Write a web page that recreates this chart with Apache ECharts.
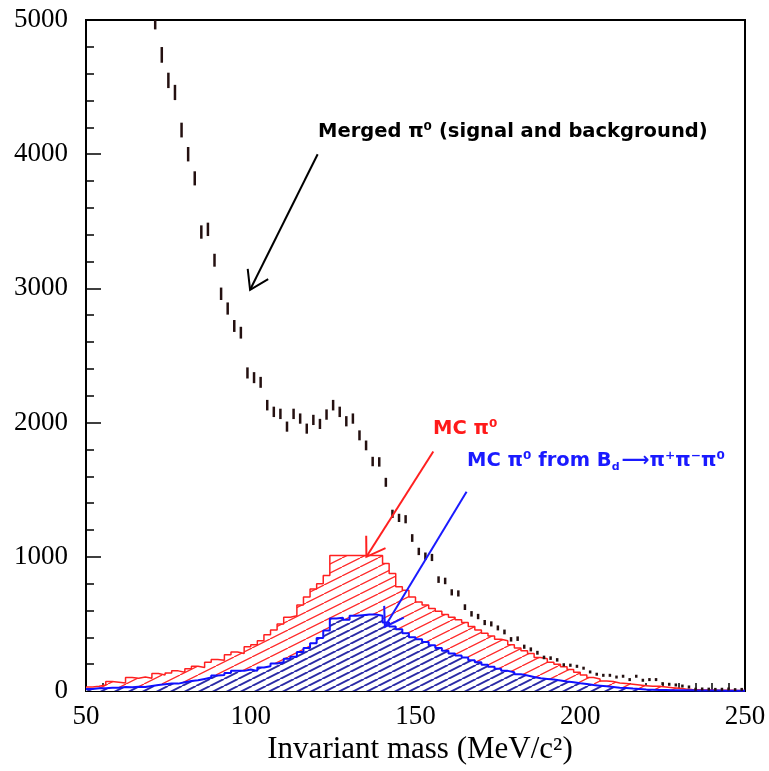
<!DOCTYPE html>
<html><head><meta charset="utf-8">
<script src="https://cdn.jsdelivr.net/npm/echarts/dist/echarts.min.js"></script>
<style>html,body{margin:0;padding:0;background:#fff}#c{width:769px;height:771px}</style>
</head><body><div id="c"></div>
<script>
// ---- data (2 MeV bins from 50 to 250 MeV/c^2) ----
const binStart = 50;
const binWidth = 2;
const xTickValues = [50, 100, 150, 200, 250];
const yTickValues = [0, 1000, 2000, 3000, 4000, 5000];

// Merged pi0 candidates (data, error bars)
const dataCounts = [
  6500, 6300, 6100, 5900, 5800, 5600, 5500, 5300, 5200, 5100,
  4990, 4740, 4550, 4460, 4180, 4000, 3820, 3420, 3440, 3210,
  2960, 2850, 2720, 2670, 2370, 2335, 2300, 2130, 2080, 2065,
  1970, 2065, 2030, 1955, 2020, 1990, 2060, 2130, 2080, 2010,
  2030, 1905, 1830, 1710, 1707, 1555, 1320, 1290, 1280, 1140,
  1040, 1005, 995, 830, 820, 735, 727, 625, 575, 555,
  510, 500, 470, 440, 385, 390, 330, 310, 285, 250,
  245, 232, 195, 192, 184, 170, 142, 125, 117, 117,
  104, 110, 85, 110, 80, 85, 85, 55, 50, 45,
  37, 30, 13, 15, 14, 12, 13, 15, 10, 12
];

// MC pi0 (red hatched)
const mcPi0 = [
  30, 35, 45, 70, 65, 60, 100, 95, 105, 95,
  130, 120, 135, 150, 140, 165, 185, 175, 215, 235,
  230, 270, 290, 280, 330, 345, 375, 420, 455, 500,
  550, 560, 640, 700, 760, 800, 860, 1010, 1010, 1010,
  1010, 1010, 1010, 1010, 1010, 950, 876, 776, 750, 700,
  664, 640, 615, 595, 570, 550, 530, 510, 480, 455,
  430, 410, 385, 375, 345, 320, 300, 280, 250, 240,
  215, 200, 180, 160, 140, 120, 100, 90, 75, 70,
  60, 55, 50, 45, 40, 35, 35, 30, 25, 20,
  15, 12, 10, 8, 8, 6, 5, 5, 4, 3
];

// MC pi0 from Bd -> pi+ pi- pi0 (blue hatched)
const mcPi0Bd = [
  15, 20, 20, 25, 25, 30, 28, 32, 30, 38,
  45, 50, 55, 55, 65, 75, 80, 90, 100, 115,
  120, 135, 150, 150, 160, 150, 175, 185, 205, 215,
  240, 255, 290, 320, 355, 395, 450, 540, 545, 530,
  560, 565, 570, 570, 560, 510, 480, 460, 430, 400,
  385, 365, 340, 320, 300, 280, 265, 250, 230, 215,
  195, 180, 165, 150, 140, 125, 115, 105, 95, 90,
  85, 78, 70, 65, 58, 52, 45, 40, 35, 30,
  25, 22, 18, 15, 12, 10, 8, 8, 6, 6,
  5, 5, 4, 4, 3, 3, 2, 2, 2, 2
];

// annotation arrows (data coordinates: from -> tip)
const arrowMerged = [[120.3, 4000], [99.8, 2990]];
const arrowMC = [[155.4, 1784], [135.1, 1000]];
const arrowBd = [[165.5, 1485], [140.7, 478]];

// ---- hatch patterns ----
function hatch(w, h, color, lw) {
  const c = document.createElement('canvas');
  c.width = w; c.height = h;
  const g = c.getContext('2d');
  g.fillStyle = '#fff'; g.fillRect(0, 0, w, h);
  g.strokeStyle = color; g.lineWidth = lw;
  g.beginPath();
  for (const o of [-w, 0, w]) { g.moveTo(o, h); g.lineTo(o + w, 0); }
  g.stroke();
  return c;
}
const redPat = hatch(18, 9, '#ff2a2a', 1.3);
const bluePat = hatch(14, 7, '#2a2aa6', 2);

function stepData(arr) {
  const d = arr.map((v, i) => [binStart + binWidth * i, v]);
  d.push([binStart + binWidth * arr.length, arr[arr.length - 1]]);
  return d;
}

const chart = echarts.init(document.getElementById('c'), null, {renderer: 'canvas'});
const serif = 'Liberation Serif';
chart.setOption({
  animation: false,
  backgroundColor: '#fff',
  grid: {left: 86, right: 24, top: 20, bottom: 80, show: true, borderColor: '#000', borderWidth: 2, backgroundColor: 'transparent'},
  xAxis: {
    type: 'value', min: xTickValues[0], max: xTickValues[xTickValues.length - 1], interval: 50,
    axisLine: {show: true, lineStyle: {color: '#000', width: 2}},
    axisTick: {show: true, inside: true, length: 15, lineStyle: {color: '#000', width: 1.5}},
    minorTick: {show: true, splitNumber: 10, length: 8, lineStyle: {color: '#000', width: 1.5}},
    splitLine: {show: false},
    axisLabel: {color: '#000', fontFamily: serif, fontSize: 27, margin: 12, formatter: (v) => String(v)}
  },
  yAxis: {
    type: 'value', min: yTickValues[0], max: yTickValues[yTickValues.length - 1], interval: 1000,
    axisLine: {show: true, lineStyle: {color: '#000', width: 2}},
    axisTick: {show: true, inside: true, length: 15, lineStyle: {color: '#000', width: 1.5}},
    minorTick: {show: true, splitNumber: 5, length: 8, lineStyle: {color: '#000', width: 1.5}},
    splitLine: {show: false},
    axisLabel: {color: '#000', fontFamily: serif, fontSize: 27, margin: 18, formatter: (v) => String(v)}
  },
  series: [
    {
      type: 'line', step: 'end', data: stepData(mcPi0), symbol: 'none', z: 2,
      lineStyle: {color: '#ff2020', width: 1.5},
      areaStyle: {color: {image: redPat, repeat: 'repeat'}, opacity: 1}
    },
    {
      type: 'line', step: 'end', data: stepData(mcPi0Bd), symbol: 'none', z: 3,
      lineStyle: {color: '#1010ff', width: 2},
      areaStyle: {color: {image: bluePat, repeat: 'repeat'}, opacity: 1}
    },
    {
      type: 'custom', z: 5, clip: true,
      data: dataCounts.map((v, i) => [binStart + binWidth * (i + 0.5), v]),
      renderItem: function (params, api) {
        const x = api.value(0), v = api.value(1);
        const e = 0.85 * Math.sqrt(v);
        const p1 = api.coord([x, v + e]), p2 = api.coord([x, v - e]);
        let y1 = p1[1], y2 = p2[1];
        if (y2 - y1 < 3) { const c = (y1 + y2) / 2; y1 = c - 1.5; y2 = c + 1.5; }
        return {type: 'line', shape: {x1: p1[0], y1: y1, x2: p1[0], y2: y2},
                style: {stroke: '#241010', lineWidth: 2.5}};
      }
    }
  ]
});

function arrowGraphics(pair, color) {
  const a = chart.convertToPixel({gridIndex: 0}, pair[0]);
  const b = chart.convertToPixel({gridIndex: 0}, pair[1]);
  const dx = a[0] - b[0], dy = a[1] - b[1];
  const L = Math.hypot(dx, dy), ux = dx / L, uy = dy / L;
  const hl = 21, ang = 33 * Math.PI / 180;
  const rot = (t) => [b[0] + hl * (ux * Math.cos(t) - uy * Math.sin(t)), b[1] + hl * (ux * Math.sin(t) + uy * Math.cos(t))];
  const h1 = rot(ang), h2 = rot(-ang);
  return [
    {type: 'line', z: 10, shape: {x1: a[0], y1: a[1], x2: b[0], y2: b[1]}, style: {stroke: color, lineWidth: 2}},
    {type: 'polyline', z: 10, shape: {points: [h1, b, h2]}, style: {stroke: color, lineWidth: 2, fill: null}}
  ];
}
const lblFont = 'DejaVu Sans';
chart.setOption({
  graphic: [].concat(
    arrowGraphics(arrowMerged, '#000'),
    arrowGraphics(arrowMC, '#ff2020'),
    arrowGraphics(arrowBd, '#1a1aff'),
    [
      {type: 'text', z: 10, left: 318, top: 122, style: {text: 'Merged π⁰ (signal and background)', fill: '#000', font: 'bold 19.5px "DejaVu Sans"'}},
      {type: 'text', z: 10, left: 433, top: 419, style: {text: 'MC π⁰', fill: '#ff1a1a', font: 'bold 19.5px "DejaVu Sans"'}},
      {type: 'text', z: 10, left: 467, top: 451, style: {
        text: 'MC π⁰ from B{s|d}⟶π⁺π⁻π⁰', fill: '#1a1aff', font: 'bold 19.5px "DejaVu Sans"',
        rich: {s: {fontSize: 11, fontWeight: 'bold', fontFamily: lblFont, fill: '#1a1aff', padding: [12, 2, 0, 0]}}
      }},
      {type: 'text', z: 10, x: 420, y: 750, style: {text: 'Invariant mass (MeV/c²)', fill: '#000', font: '31px "Liberation Serif"', textAlign: 'center', textVerticalAlign: 'middle'}}
    ]
  )
});
</script>
</body></html>
